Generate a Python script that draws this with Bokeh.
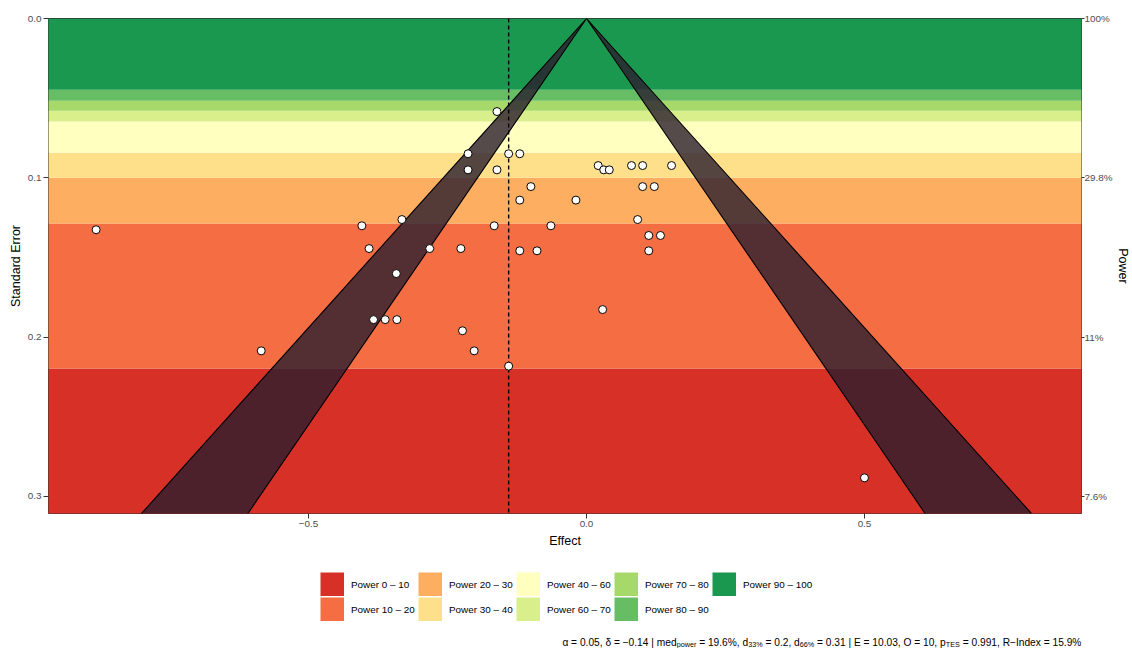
import math
from bokeh.plotting import figure
from bokeh.layouts import column
from bokeh.models import (Range1d, ColumnDataSource, LinearAxis, FixedTicker,
                          Legend, LegendItem, Label)
from bokeh.embed import file_html
from bokeh.resources import INLINE

# ---------------- data ----------------
band_labels = ["Power 0 – 10", "Power 10 – 20", "Power 20 – 30", "Power 30 – 40",
               "Power 40 – 60", "Power 60 – 70", "Power 70 – 80", "Power 80 – 90",
               "Power 90 – 100"]
band_colors = ["#d73027", "#f46d43", "#fdae61", "#fee08b", "#ffffbf",
               "#d9ef8b", "#a6d96a", "#66bd63", "#1a9850"]
band_se_low = [0.32, 0.2197, 0.1287, 0.1000, 0.0843, 0.0647, 0.0579, 0.0517, 0.0448]
band_se_high = [0.2197, 0.1287, 0.1000, 0.0843, 0.0647, 0.0579, 0.0517, 0.0448, 0.0]

effects = [-0.882, -0.161, -0.213, -0.140, -0.120, -0.213, -0.161, -0.100, -0.120,
           -0.019, 0.021, 0.031, 0.041, 0.081, 0.101, 0.153, 0.101, 0.122, 0.092,
           0.112, 0.133, 0.112, -0.404, -0.332, -0.166, -0.064, -0.391, -0.282,
           -0.226, -0.120, -0.089, -0.342, -0.383, -0.362, -0.341, -0.223, -0.202,
           -0.140, 0.029, -0.585, 0.500]
std_errors = [0.1326, 0.0584, 0.0849, 0.0849, 0.0849, 0.0950, 0.0950, 0.1055, 0.1140,
              0.1140, 0.0923, 0.0950, 0.0950, 0.0923, 0.0923, 0.0923, 0.1055, 0.1055,
              0.1262, 0.1362, 0.1362, 0.1458, 0.1301, 0.1262, 0.1301, 0.1301, 0.1444,
              0.1444, 0.1444, 0.1458, 0.1458, 0.1601, 0.1890, 0.1890, 0.1890, 0.1960,
              0.2086, 0.2182, 0.1827, 0.2086, 0.2883]

delta = -0.14
z_crit = [1.96, 2.576]          # alpha = .05 and .01 contours
se_max = 0.32

x_ticks = [-0.5, 0, 0.5]
x_tick_labels = ["−0.5", "0.0", "0.5"]
se_ticks = [0, 0.1, 0.2, 0.3]
se_tick_labels = ["0.0", "0.1", "0.2", "0.3"]
power_tick_labels = ["100%", "29.8%", "11%", "7.6%"]

caption_segments = [("α = 0.05, δ = −0.14 | med", False), ("power", True),
                    (" = 19.6%, d", False), ("33%", True), (" = 0.2, d", False),
                    ("66%", True), (" = 0.31 | E = 10.03, O = 10, p", False),
                    ("TES", True), (" = 0.991, R−Index = 15.9%", False)]

# ---------------- main figure ----------------
FONT = "Liberation Sans"
W_PAGE = 1132
p = figure(width=W_PAGE, height=556, output_backend="svg", toolbar_location=None,
           x_range=Range1d(-0.9676, 0.8903), y_range=Range1d(0.3107, 0.0),
           min_border_left=48, min_border_right=51, min_border_top=18,
           min_border_bottom=43)
p.frame_align = False
p.background_fill_color = "white"
p.border_fill_color = "white"
p.outline_line_color = "#333333"
p.outline_line_width = 1
p.grid.visible = False

band_src = ColumnDataSource(dict(left=[-2.0] * len(band_labels), right=[2.0] * len(band_labels),
                                 top=band_se_high, bottom=band_se_low,
                                 color=band_colors, label=band_labels))
p.quad(left="left", right="right", top="top", bottom="bottom",
       fill_color="color", line_color=None, source=band_src)

# significance contours (funnel)
z1, z2 = z_crit
p.patches(xs=[[0, -z2 * se_max, -z1 * se_max], [0, z1 * se_max, z2 * se_max]],
          ys=[[0, se_max, se_max], [0, se_max, se_max]],
          fill_color="#2b1e2e", fill_alpha=0.8, line_color="black", line_width=1.1)

p.segment(x0=[delta], y0=[0], x1=[delta], y1=[se_max], line_color="black",
          line_width=1.4, line_dash="4 3")

p.scatter(effects, std_errors, size=8, fill_color="white", line_color="black",
          line_width=1)

def style_axis(ax, ticks, labels):
    ax.ticker = FixedTicker(ticks=ticks)
    ax.major_label_overrides = {t: l for t, l in zip(ticks, labels)}
    ax.minor_tick_line_color = None
    ax.major_tick_in = 0
    ax.major_tick_out = 5
    ax.major_tick_line_color = "#333333"
    ax.axis_line_color = None
    ax.major_label_text_font = FONT
    ax.major_label_text_font_size = "9.9px"
    ax.major_label_text_color = "#4d4d4d"
    ax.axis_label_text_font = FONT
    ax.axis_label_text_font_size = "12.5px"
    ax.axis_label_text_font_style = "normal"
    ax.axis_label_text_color = "black"

xa = p.below[0]
style_axis(xa, x_ticks, x_tick_labels)
xa.axis_label = "Effect"
xa.major_label_standoff = 2
xa.axis_label_standoff = 4

ya = p.left[0]
style_axis(ya, se_ticks, se_tick_labels)
ya.axis_label = "Standard Error"
ya.major_label_standoff = 2
ya.axis_label_standoff = 2

ra = LinearAxis()
style_axis(ra, se_ticks, power_tick_labels)
ra.major_tick_out = 3
ra.major_label_standoff = 0
ra.axis_label = "Power"
ra.axis_label_standoff = 0
ra.axis_label_text_line_height = 0.8
p.add_layout(ra, "right")

# ---------------- legend + caption strip ----------------
H2 = 92
q = figure(width=W_PAGE, height=H2, output_backend="svg", toolbar_location=None,
           x_range=Range1d(0, 1), y_range=Range1d(0, 1),
           x_axis_location=None, y_axis_location=None,
           min_border_left=0, min_border_right=0, min_border_top=0, min_border_bottom=0)
q.frame_align = False
q.outline_line_color = None
q.grid.visible = False
q.background_fill_color = "white"
q.border_fill_color = "white"

nan = float("nan")
proxy_src = ColumnDataSource(dict(left=[nan] * len(band_labels), right=[nan] * len(band_labels),
                                  top=[nan] * len(band_labels), bottom=[nan] * len(band_labels),
                                  color=band_colors))
proxy = q.quad(left="left", right="right", top="top", bottom="bottom",
               fill_color="color", line_color="color", line_width=4.8,
               line_join="miter", source=proxy_src)

items = [LegendItem(label=lab, renderers=[proxy], index=i) for i, lab in enumerate(band_labels)]
legend = Legend(items=items, location=(320, 27), orientation="vertical", nrows=2,
                glyph_width=24, glyph_height=24, label_standoff=7, spacing=1,
                padding=0, margin=0, border_line_color=None, background_fill_alpha=0,
                label_text_font=FONT, label_text_font_size="9.9px", label_height=24,
                label_width=66, label_text_color="black")
q.add_layout(legend)

W = {' ': 278, ',': 278, '.': 278, '=': 584, '%': 889, '|': 260, 'α': 579, 'δ': 557,
     '−': 584, 'm': 833, 'e': 556, 'd': 556, 'p': 556, 'o': 556, 'w': 722, 'r': 333,
     'E': 667, 'O': 778, 'T': 611, 'S': 667, 'R': 722, 'I': 278, 'n': 556, 'x': 500}
def text_width(s, size):
    return sum(W.get(c, 556) for c in s) * size / 1000.0

MAIN, SUB = 10.2, 7.2
total = sum(text_width(s, SUB if sub else MAIN) for s, sub in caption_segments)
cx = 1081 - total
base_y = 6.5
for s, sub in caption_segments:
    size = SUB if sub else MAIN
    stripped = s.lstrip(" ")
    lead = text_width(s[:len(s) - len(stripped)], size)
    q.add_layout(Label(x=cx + lead, y=base_y - (2.0 if sub else 0), x_units="screen",
                       y_units="screen", text=stripped, text_font=FONT,
                       text_font_size=f"{size}px", text_baseline="alphabetic",
                       text_align="left", text_color="black"))
    cx += text_width(s, size)

layout = column(p, q, spacing=0)
open("out.html", "w").write(file_html(layout, INLINE))
